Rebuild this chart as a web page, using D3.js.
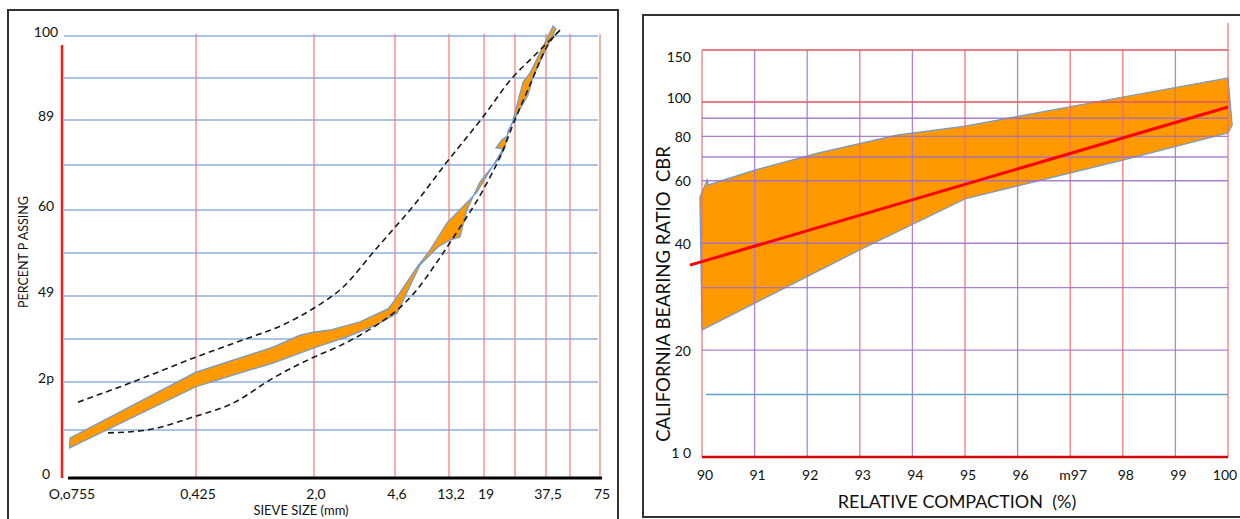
<!DOCTYPE html>
<html><head><meta charset="utf-8">
<script src="https://cdn.jsdelivr.net/npm/d3@7"></script>
<style>body{margin:0;background:#fff;} svg{display:block;font-family:Lato,'Open Sans',sans-serif;} text{white-space:pre;}</style>
</head><body><svg id="c" width="1240" height="519"></svg>
<script>
// ---------- LEFT CHART: grading envelope ----------
const sieveSizes  = [0.075, 0.425, 2, 4.6, 13.2, 19, 26.5, 37.5, 53, 75];
const sieveLabels = ["O,o755", "0,425", "2,0", "4,6", "13,2", "19", "", "37,5", "", "75"];
const percentTicks  = [0, 20, 40, 60, 80, 100];
const percentLabels = ["0", "2p", "49", "60", "89", "100"];
const percentGrid   = [10, 20, 30, 40, 50, 60, 70, 80, 90, 100];

const upperEnvelopeSize = [0.0837, 0.178, 0.425, 0.788, 1.332, 2.0, 2.70, 3.75, 4.6, 6.17, 12.7, 18.6, 25.9, 32.4, 44.6];
const upperEnvelopePct  = [15.8, 20, 25.8, 29.8, 33.3, 37.2, 42.1, 50.7, 56.0, 60, 70.7, 80.4, 90.2, 95, 100.9];
const lowerEnvelopeSize = [0.1266, 0.2165, 0.408, 0.691, 1.168, 2.0, 2.53, 3.82, 4.6, 6.79, 10.44, 14.05, 18.8, 23.3, 25.9, 31.3, 38.6, 45.9];
const lowerEnvelopePct  = [9.4, 10.0, 12.7, 15.6, 20.9, 25.8, 28.1, 33.3, 36.3, 40.9, 47.9, 54.2, 64.4, 73.3, 78.9, 88.3, 97.9, 101.4];

const bandTopSize = [0.075, 0.425, 0.691, 1.168, 1.665, 1.98, 2.36, 3.21, 4.28, 4.6, 7.07, 9.11, 12.7, 17.7, 23.3, 21.6, 23.05, 24.3, 25.7, 28.98, 31.35, 41.5];
const bandTopPct  = [8.33, 22.3, 25.1, 28.1, 30.9, 31.6, 32.1, 34.0, 37.0, 39.1, 46.7, 50.7, 57.0, 64.0, 73.6, 73.8, 75.6, 76.4, 79.3, 89.0, 91.2, 102.4];
const bandBottomSize = [0.0745, 0.425, 0.691, 1.168, 2.0, 2.81, 3.82, 4.79, 7.49, 10.65, 13.3, 14.8, 15.9, 18.2, 22.6, 23.8, 24.6, 25.7, 30.7, 32.4, 38.6, 43.3];
const bandBottomPct  = [6.25, 19.0, 21.6, 24.4, 27.9, 30.5, 33.3, 36.0, 47.2, 51.4, 53.0, 53.7, 60.0, 66.2, 71.8, 73.8, 77.6, 79.3, 86.0, 90.2, 97.9, 101.7];

// ---------- RIGHT CHART: CBR vs relative compaction ----------
const compaction       = [90, 91, 92, 93, 94, 95, 96, 97, 98, 99, 100];
const compactionLabels = ["90", "91", "92", "93", "94", "95", "96", "m97", "98", "99", "100"];
const compactionRed    = [90, 93, 95, 97, 98, 100];
const cbrTicks  = [10, 20, 40, 60, 80, 100, 150];
const cbrLabels = ["1 0", "20", "40", "60", "80", "100", "150"];
const cbrGridPurple = [20, 30, 40, 60, 70, 80, 90];
const cbrGridRed    = [100, 150];
const cbrGridTeal   = [15];

const cbrBandTopX = [89.96, 90.1, 90.12, 91, 92.2, 93.7, 95, 98, 100];
const cbrBandTopV = [54, 60.3, 58.4, 64.3, 71.8, 80.7, 85.5, 104, 120.6];
const cbrBandBottomX = [90, 93, 95, 98, 100, 100.08];
const cbrBandBottomV = [22.8, 38.3, 53.3, 68.6, 81.8, 86.1];
const cbrTrendX = [89.77, 100];
const cbrTrendV = [34.7, 96.8];

const svg = d3.select("#c");

// ===== LEFT =====
const L = svg.append("g");
L.append("rect").attr("x", 8).attr("y", 10).attr("width", 610).attr("height", 530)
  .attr("fill", "none").attr("stroke", "#333").attr("stroke-width", 2);

const xL = d3.scaleLog().domain(sieveSizes).range([70, 196, 314, 395, 449, 484, 515, 546, 570, 600]);
const yL = d3.scaleLinear().domain(percentTicks).range([478, 382, 296, 210, 120, 36]);

L.selectAll("line.hg").data(percentGrid).join("line")
  .attr("x1", 64).attr("x2", 598)
  .attr("y1", d => yL(d)).attr("y2", d => yL(d))
  .attr("stroke", "#8db0dc").attr("stroke-width", 1.5);
L.selectAll("line.vg").data(sieveSizes.slice(1)).join("line")
  .attr("x1", d => xL(d)).attr("x2", d => xL(d))
  .attr("y1", yL(100) - 2).attr("y2", yL(0))
  .attr("stroke", "#f37b7b").attr("stroke-width", 1.2);
L.append("line").attr("x1", xL(0.075) - 8).attr("x2", xL(0.075) - 8)
  .attr("y1", 45).attr("y2", yL(0)).attr("stroke", "#ff1a1a").attr("stroke-width", 2.5);
L.append("line").attr("x1", xL(0.075) - 2).attr("x2", xL(75) + 2)
  .attr("y1", yL(0)).attr("y2", yL(0)).attr("stroke", "#000").attr("stroke-width", 3);

const lineL = d3.line().x(d => xL(d[0])).y(d => yL(d[1]));
const bandPts = bandTopSize.map((s, i) => [s, bandTopPct[i]])
  .concat(bandBottomSize.map((s, i) => [s, bandBottomPct[i]]).reverse());
L.append("path").attr("d", lineL(bandPts) + "Z")
  .attr("fill", "#ff9900").attr("stroke", "#6d9bd3").attr("stroke-width", 1.2);

const envStyle = sel => sel.attr("fill", "none").attr("stroke", "#1a1a1a")
  .attr("stroke-width", 1.6).attr("stroke-dasharray", "6,4");
const lineLc = d3.line().x(d => xL(d[0])).y(d => yL(d[1])).curve(d3.curveMonotoneX);
L.append("path").attr("d", lineLc(upperEnvelopeSize.map((s, i) => [s, upperEnvelopePct[i]]))).call(envStyle);
L.append("path").attr("d", lineLc(lowerEnvelopeSize.map((s, i) => [s, lowerEnvelopePct[i]]))).call(envStyle);

L.selectAll("text.yt").data(percentTicks).join("text")
  .attr("x", 46).attr("y", d => yL(d) - 5).attr("text-anchor", "middle")
  .attr("dominant-baseline", "central").attr("font-size", 14).attr("fill", "#111")
  .text((d, i) => percentLabels[i]);
L.selectAll("text.xt").data(sieveSizes).join("text")
  .attr("x", d => xL(d) + 2).attr("y", 499).attr("text-anchor", "middle")
  .attr("font-size", 14).attr("fill", "#111")
  .text((d, i) => sieveLabels[i]);
L.append("text").attr("transform", "translate(28,252) rotate(-90)")
  .attr("text-anchor", "middle").attr("font-size", 12.5).attr("fill", "#111").text("PERCENT P ASSING");
L.append("text").attr("x", 301).attr("y", 515).attr("text-anchor", "middle")
  .attr("font-size", 13).attr("fill", "#111").text("SIEVE SIZE (mm)");

// ===== RIGHT =====
const R = svg.append("g");
R.append("rect").attr("x", 643).attr("y", 15).attr("width", 620).attr("height", 502)
  .attr("fill", "none").attr("stroke", "#333").attr("stroke-width", 2);

const xR = d3.scaleLinear().domain([90, 100]).range([702, 1228]);
const yR = d3.scaleLog().domain([10, 100, 150]).range([457, 102, 50]);

const lineR = d3.line().x(d => xR(d[0])).y(d => yR(d[1]));
const cbrPts = cbrBandTopX.map((x, i) => [x, cbrBandTopV[i]])
  .concat(cbrBandBottomX.map((x, i) => [x, cbrBandBottomV[i]]).reverse());
R.append("path").attr("d", lineR(cbrPts) + "Z")
  .attr("fill", "#ff9900").attr("stroke", "#6d9bd3").attr("stroke-width", 1.2);

R.selectAll("line.vg").data(compaction).join("line")
  .attr("x1", d => xR(d)).attr("x2", d => xR(d))
  .attr("y1", d => d === 100 ? 23 : yR(150)).attr("y2", yR(10))
  .attr("stroke", d => compactionRed.includes(d) ? "#f36a6a" : "#a47ad0")
  .attr("stroke-width", 1.3).attr("stroke-opacity", 0.9);
R.selectAll("line.hp").data(cbrGridPurple).join("line")
  .attr("x1", xR(90)).attr("x2", xR(100)).attr("y1", d => yR(d)).attr("y2", d => yR(d))
  .attr("stroke", "#9b6ccb").attr("stroke-width", 1.3).attr("stroke-opacity", 0.85);
R.selectAll("line.hr").data(cbrGridRed).join("line")
  .attr("x1", xR(90)).attr("x2", xR(100)).attr("y1", d => yR(d)).attr("y2", d => yR(d))
  .attr("stroke", "#e0555d").attr("stroke-width", 1.3);
R.selectAll("line.ht").data(cbrGridTeal).join("line")
  .attr("x1", xR(90) + 4).attr("x2", xR(100)).attr("y1", d => yR(d)).attr("y2", d => yR(d))
  .attr("stroke", "#5aa6bf").attr("stroke-width", 1.3);
R.append("line").attr("x1", xR(90)).attr("x2", xR(100)).attr("y1", yR(10)).attr("y2", yR(10))
  .attr("stroke", "#d40000").attr("stroke-width", 2.5);

R.append("path").attr("d", lineR(cbrTrendX.map((x, i) => [x, cbrTrendV[i]])))
  .attr("fill", "none").attr("stroke", "#ff0000").attr("stroke-width", 3);

R.selectAll("text.yt").data(cbrTicks).join("text")
  .attr("x", 691).attr("y", d => yR(d) + (d === 150 ? 6 : (d === 100 || d === 10) ? -5 : 0))
  .attr("text-anchor", "end")
  .attr("dominant-baseline", "central").attr("font-size", 14).attr("fill", "#111")
  .text((d, i) => cbrLabels[i]);
R.selectAll("text.xt").data(compaction).join("text")
  .attr("x", d => xR(d) + (d === 100 ? -3 : 3)).attr("y", 480).attr("text-anchor", "middle")
  .attr("font-size", 14).attr("fill", "#111")
  .text((d, i) => compactionLabels[i]);
R.append("text").attr("x", 957).attr("y", 508).attr("text-anchor", "middle")
  .attr("font-size", 18).attr("fill", "#111").text("RELATIVE COMPACTION  (%)");
R.append("text").attr("transform", "translate(670,294) rotate(-90)")
  .attr("text-anchor", "middle").attr("font-size", 18.5).attr("fill", "#111").text("CALIFORNIA BEARING RATIO  CBR");
</script></body></html>
